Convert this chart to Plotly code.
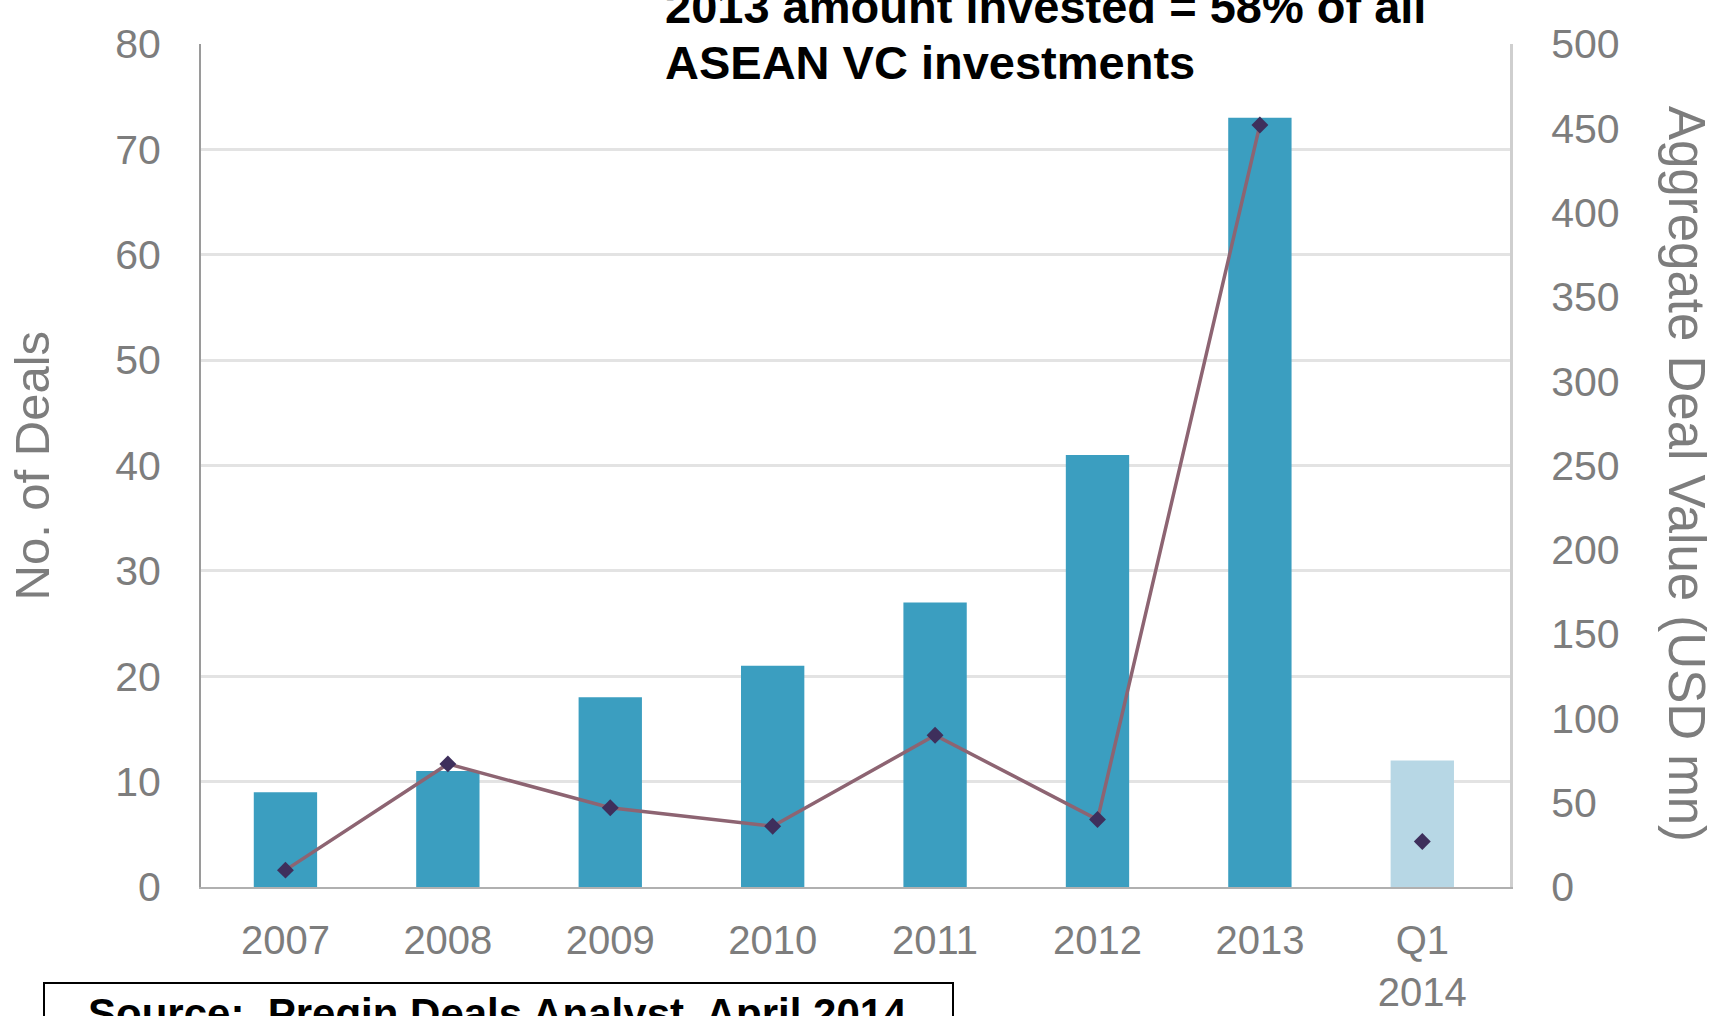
import plotly.graph_objects as go

categories = ["2007", "2008", "2009", "2010", "2011", "2012", "2013", "Q1<br>2014"]
num_deals = [9, 11, 18, 21, 27, 41, 73, 12]
deal_value = [10, 73, 47, 36, 90, 40, 452, 27]
left_ticks = [0, 10, 20, 30, 40, 50, 60, 70, 80]
right_ticks = [0, 50, 100, 150, 200, 250, 300, 350, 400, 450, 500]

bar_colors = ["#3b9ec0"] * 7 + ["#b7d7e5"]
tick_font = dict(family="Liberation Sans, Arial, sans-serif", size=41, color="#7d7d7d")
xtick_font = dict(family="Liberation Sans, Arial, sans-serif", size=40, color="#7d7d7d")

fig = go.Figure()
fig.add_trace(go.Bar(
    x=categories, y=num_deals, marker=dict(color=bar_colors, line=dict(width=0)),
    width=0.39, yaxis="y", showlegend=False,
))
fig.add_trace(go.Scatter(
    x=categories[:7], y=deal_value[:7], yaxis="y2", mode="lines+markers",
    line=dict(color="#8d6472", width=3.5),
    marker=dict(symbol="diamond", size=13, color="#3e2f5c"), showlegend=False,
))
fig.add_trace(go.Scatter(
    x=categories[7:], y=deal_value[7:], yaxis="y2", mode="markers",
    marker=dict(symbol="diamond", size=13, color="#3e2f5c"), showlegend=False,
))

fig.update_layout(
    width=1718, height=1016,
    margin=dict(l=201, r=208, t=44, b=129),
    paper_bgcolor="white", plot_bgcolor="white",
    bargap=0.6,
    xaxis=dict(
        type="category", range=[-0.52, 7.54], tickfont=xtick_font,
        showgrid=False, showline=True, linecolor="#b0b0b0", linewidth=2,
        ticks="", ticklabelstandoff=17, automargin=False,
    ),
    yaxis=dict(
        range=[0, 80], tickvals=left_ticks, tickfont=tick_font,
        showgrid=True, gridcolor="#e3e3e3", gridwidth=3,
        showline=True, linecolor="#9a9a9a", linewidth=2,
        ticks="", ticklabelstandoff=30, zeroline=False, automargin=False,
    ),
    yaxis2=dict(
        range=[0, 500], tickvals=right_ticks, tickfont=tick_font,
        overlaying="y", side="right", showgrid=False,
        showline=True, linecolor="#cfcfcf", linewidth=3,
        ticks="", ticklabelstandoff=30, zeroline=False, automargin=False,
    ),
    annotations=[
        dict(text="No. of Deals", textangle=-90, xref="paper", yref="paper",
             x=(31 - 201) / 1309, y=0.5, xanchor="center", yanchor="middle", showarrow=False,
             font=dict(family="Liberation Sans, Arial, sans-serif", size=49, color="#7d7d7d")),
        dict(text="Aggregate Deal Value (USD mn)", textangle=90, xref="paper", yref="paper",
             x=(1686 - 201) / 1309, y=0.49, xanchor="center", yanchor="middle", showarrow=False,
             font=dict(family="Liberation Sans, Arial, sans-serif", size=51, color="#7d7d7d")),
        dict(text="<b>2013 amount invested = 58% of all</b>", xref="paper", yref="paper",
             x=(663 - 201) / 1309, y=(887 - 35) / 843, xanchor="left", yanchor="bottom", showarrow=False,
             font=dict(family="Liberation Sans, Arial, sans-serif", size=47, color="black")),
        dict(text="<b>ASEAN VC investments</b>", xref="paper", yref="paper",
             x=(663 - 201) / 1309, y=(887 - 91) / 843, xanchor="left", yanchor="bottom", showarrow=False,
             font=dict(family="Liberation Sans, Arial, sans-serif", size=47, color="black")),
        dict(text="<b>Source:  Preqin Deals Analyst, April 2014</b>", xref="paper", yref="paper",
             x=(86 - 201) / 1309, y=(887 - 988) / 843, xanchor="left", yanchor="top", showarrow=False,
             font=dict(family="Liberation Sans, Arial, sans-serif", size=42, color="black")),
    ],
    shapes=[
        dict(type="rect", xref="paper", yref="paper",
             x0=(44 - 201) / 1309, x1=(953 - 201) / 1309,
             y0=(887 - 983) / 843, y1=(887 - 1100) / 843,
             line=dict(color="black", width=2), fillcolor="rgba(0,0,0,0)"),
    ],
)

fig.write_html("out.html")
